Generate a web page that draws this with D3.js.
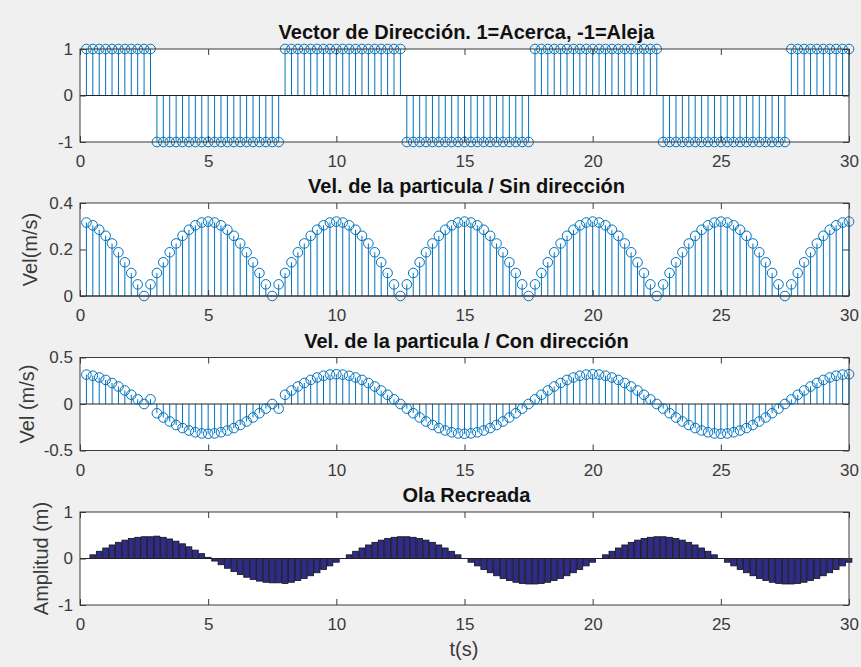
<!DOCTYPE html>
<html>
<head>
<meta charset="utf-8">
<script src="https://cdn.jsdelivr.net/npm/d3@7/dist/d3.min.js"></script>
<style>
  html, body { margin: 0; padding: 0; background: #f0f0f0; }
  svg { display: block; }
  text { font-family: "Liberation Sans", Arial, Helvetica, sans-serif; }
</style>
</head>
<body>
<svg id="fig" width="861" height="667"></svg>
<script>
// Time samples (s)
const t = [
  0.25,0.5,0.75,1,1.25,1.5,1.75,2,2.25,2.5,2.75,3,3.25,3.5,3.75,4,4.25,4.5,4.75,5,
  5.25,5.5,5.75,6,6.25,6.5,6.75,7,7.25,7.5,7.75,8,8.25,8.5,8.75,9,9.25,9.5,9.75,10,
  10.25,10.5,10.75,11,11.25,11.5,11.75,12,12.25,12.5,12.75,13,13.25,13.5,13.75,14,14.25,14.5,14.75,15,
  15.25,15.5,15.75,16,16.25,16.5,16.75,17,17.25,17.5,17.75,18,18.25,18.5,18.75,19,19.25,19.5,19.75,20,
  20.25,20.5,20.75,21,21.25,21.5,21.75,22,22.25,22.5,22.75,23,23.25,23.5,23.75,24,24.25,24.5,24.75,25,
  25.25,25.5,25.75,26,26.25,26.5,26.75,27,27.25,27.5,27.75,28,28.25,28.5,28.75,29,29.25,29.5,29.75,30
];

// Direction vector: 1 = approaching, -1 = moving away
const direction = [
  1,1,1,1,1,1,1,1,1,1,1,-1,-1,-1,-1,-1,-1,-1,-1,-1,
  -1,-1,-1,-1,-1,-1,-1,-1,-1,-1,-1,1,1,1,1,1,1,1,1,1,
  1,1,1,1,1,1,1,1,1,1,-1,-1,-1,-1,-1,-1,-1,-1,-1,-1,
  -1,-1,-1,-1,-1,-1,-1,-1,-1,-1,1,1,1,1,1,1,1,1,1,1,
  1,1,1,1,1,1,1,1,1,1,-1,-1,-1,-1,-1,-1,-1,-1,-1,-1,
  -1,-1,-1,-1,-1,-1,-1,-1,-1,-1,1,1,1,1,1,1,1,1,1,1
];

// Particle speed without direction (m/s)
const speed = [
  0.316,0.304,0.285,0.259,0.226,0.188,0.145,0.099,0.05,0,0.05,0.099,0.145,0.188,0.226,0.259,0.285,0.304,0.316,0.32,
  0.316,0.304,0.285,0.259,0.226,0.188,0.145,0.099,0.05,0,0.05,0.099,0.145,0.188,0.226,0.259,0.285,0.304,0.316,0.32,
  0.316,0.304,0.285,0.259,0.226,0.188,0.145,0.099,0.05,0,0.05,0.099,0.145,0.188,0.226,0.259,0.285,0.304,0.316,0.32,
  0.316,0.304,0.285,0.259,0.226,0.188,0.145,0.099,0.05,0,0.05,0.099,0.145,0.188,0.226,0.259,0.285,0.304,0.316,0.32,
  0.316,0.304,0.285,0.259,0.226,0.188,0.145,0.099,0.05,0,0.05,0.099,0.145,0.188,0.226,0.259,0.285,0.304,0.316,0.32,
  0.316,0.304,0.285,0.259,0.226,0.188,0.145,0.099,0.05,0,0.05,0.099,0.145,0.188,0.226,0.259,0.285,0.304,0.316,0.32
];

// Particle velocity with direction (m/s)
const velocity = [
  0.316,0.304,0.285,0.259,0.226,0.188,0.145,0.099,0.05,0,0.05,-0.099,-0.145,-0.188,-0.226,-0.259,-0.285,-0.304,-0.316,-0.32,
  -0.316,-0.304,-0.285,-0.259,-0.226,-0.188,-0.145,-0.099,-0.05,0,-0.05,0.099,0.145,0.188,0.226,0.259,0.285,0.304,0.316,0.32,
  0.316,0.304,0.285,0.259,0.226,0.188,0.145,0.099,0.05,0,-0.05,-0.099,-0.145,-0.188,-0.226,-0.259,-0.285,-0.304,-0.316,-0.32,
  -0.316,-0.304,-0.285,-0.259,-0.226,-0.188,-0.145,-0.099,-0.05,0,0.05,0.099,0.145,0.188,0.226,0.259,0.285,0.304,0.316,0.32,
  0.316,0.304,0.285,0.259,0.226,0.188,0.145,0.099,0.05,0,-0.05,-0.099,-0.145,-0.188,-0.226,-0.259,-0.285,-0.304,-0.316,-0.32,
  -0.316,-0.304,-0.285,-0.259,-0.226,-0.188,-0.145,-0.099,-0.05,0,0.05,0.099,0.145,0.188,0.226,0.259,0.285,0.304,0.316,0.32
];

// Recreated wave amplitude (m)
const amplitude = [
  0,0.079,0.155,0.226,0.291,0.348,0.395,0.431,0.456,0.468,0.468,0.481,0.456,0.42,0.373,0.316,0.251,0.18,0.104,0.025,
  -0.055,-0.134,-0.21,-0.281,-0.346,-0.403,-0.45,-0.486,-0.511,-0.523,-0.523,-0.536,-0.511,-0.475,-0.428,-0.371,-0.306,-0.235,-0.159,-0.08,
  0,0.079,0.155,0.226,0.291,0.348,0.395,0.431,0.456,0.468,0.468,0.456,0.431,0.395,0.348,0.291,0.226,0.155,0.079,0,
  -0.08,-0.159,-0.235,-0.306,-0.371,-0.428,-0.475,-0.511,-0.536,-0.548,-0.548,-0.536,-0.511,-0.475,-0.428,-0.371,-0.306,-0.235,-0.159,-0.08,
  0,0.079,0.155,0.226,0.291,0.348,0.395,0.431,0.456,0.468,0.468,0.456,0.431,0.395,0.348,0.291,0.226,0.155,0.079,0,
  -0.08,-0.159,-0.235,-0.306,-0.371,-0.428,-0.475,-0.511,-0.536,-0.548,-0.548,-0.536,-0.511,-0.475,-0.428,-0.371,-0.306,-0.235,-0.159,-0.08
];

const xTicks = [0, 5, 10, 15, 20, 25, 30];
const titles = [
  "Vector de Dirección. 1=Acerca, -1=Aleja",
  "Vel. de la particula / Sin dirección",
  "Vel. de la particula / Con dirección",
  "Ola Recreada"
];
const yLabels = ["", "Vel(m/s)", "Vel (m/s)", "Amplitud (m)"];
const yTicks = [[-1, 0, 1], [0, 0.2, 0.4], [-0.5, 0, 0.5], [-1, 0, 1]];
const yDomains = [[-1, 1], [0, 0.4], [-0.5, 0.5], [-1, 1]];
const xLabel = "t(s)";

// ---- layout ----
const svg = d3.select("#fig");
const left = 80, right = 849, plotH = 93;
const tops = [49, 203, 357.5, 512];
const ylabelX = [0, 37, 34, 48];
const stemColor = "#0072bd";
const axisColor = "#3a3a3a";
const tickFont = 17;

const x = d3.scaleLinear().domain([0, 30]).range([left, right]);

const panels = tops.map((top, i) => {
  const y = d3.scaleLinear().domain(yDomains[i]).range([top + plotH, top]);
  const g = svg.append("g");
  g.append("rect")
    .attr("x", left).attr("y", top)
    .attr("width", right - left).attr("height", plotH)
    .attr("fill", "#ffffff");
  return { y, g, top, bottom: top + plotH };
});

function drawAxes(p, i) {
  const { y, g, top, bottom } = p;
  const fmt = d => (d === 0 ? "0" : String(d));
  const styleAxis = sel => {
    sel.select(".domain").remove();
    sel.selectAll(".tick line").attr("stroke", axisColor).attr("stroke-width", 1);
    sel.selectAll(".tick text")
      .attr("fill", "#3a3a3a")
      .attr("font-size", tickFont)
      .attr("font-family", "'Liberation Sans', Arial, sans-serif");
  };
  g.append("g").attr("transform", `translate(0,${bottom})`)
    .call(d3.axisBottom(x).tickValues(xTicks).tickFormat(fmt).tickSize(-6).tickPadding(13))
    .call(styleAxis);
  g.append("g").attr("transform", `translate(0,${top})`)
    .call(d3.axisTop(x).tickValues(xTicks).tickFormat("").tickSize(-6))
    .call(styleAxis);
  g.append("g").attr("transform", `translate(${left},0)`)
    .call(d3.axisLeft(y).tickValues(yTicks[i]).tickFormat(fmt).tickSize(-6).tickPadding(7))
    .call(styleAxis);
  g.append("g").attr("transform", `translate(${right},0)`)
    .call(d3.axisRight(y).tickValues(yTicks[i]).tickFormat("").tickSize(-6))
    .call(styleAxis);
  g.append("rect")
    .attr("x", left).attr("y", top)
    .attr("width", right - left).attr("height", plotH)
    .attr("fill", "none").attr("stroke", axisColor).attr("stroke-width", 1);

  g.append("text")
    .attr("x", (left + right) / 2 + 2).attr("y", top - 10)
    .attr("text-anchor", "middle")
    .attr("font-size", 20).attr("font-weight", "bold").attr("fill", "#111")
    .text(titles[i]);

  if (yLabels[i]) {
    g.append("text")
      .attr("transform", `translate(${ylabelX[i]},${(top + bottom) / 2}) rotate(-90)`)
      .attr("text-anchor", "middle")
      .attr("font-size", 20).attr("fill", "#3a3a3a")
      .text(yLabels[i]);
  }
}

function drawStems(p, values) {
  const { y, g } = p;
  const pts = t.map((tv, k) => ({ t: tv, v: values[k] }));
  g.append("g").selectAll("line").data(pts).join("line")
    .attr("x1", d => x(d.t)).attr("x2", d => x(d.t))
    .attr("y1", y(0)).attr("y2", d => y(d.v))
    .attr("stroke", stemColor).attr("stroke-width", 1);
  g.append("line")
    .attr("x1", left).attr("x2", right)
    .attr("y1", y(0)).attr("y2", y(0))
    .attr("stroke", "#222").attr("stroke-width", 1);
  g.append("g").selectAll("circle").data(pts).join("circle")
    .attr("cx", d => x(d.t)).attr("cy", d => y(d.v))
    .attr("r", 4.8)
    .attr("fill", "none").attr("stroke", stemColor).attr("stroke-width", 1);
}

function drawBars(p, values) {
  const { y, g } = p;
  const step = x(t[1]) - x(t[0]);
  const bw = step * 0.9;
  const pts = t.map((tv, k) => ({ t: tv, v: values[k] }));
  g.append("g").selectAll("rect").data(pts).join("rect")
    .attr("x", d => x(d.t) - bw / 2)
    .attr("y", d => Math.min(y(0), y(d.v)))
    .attr("width", bw)
    .attr("height", d => Math.abs(y(d.v) - y(0)))
    .attr("fill", "#2e2c86").attr("stroke", "#111").attr("stroke-width", 0.8);
  g.append("line")
    .attr("x1", left).attr("x2", right)
    .attr("y1", y(0)).attr("y2", y(0))
    .attr("stroke", "#222").attr("stroke-width", 1);
}

drawStems(panels[0], direction);
drawStems(panels[1], speed);
drawStems(panels[2], velocity);
drawBars(panels[3], amplitude);
panels.forEach(drawAxes);

svg.append("text")
  .attr("x", 464).attr("y", 656)
  .attr("text-anchor", "middle")
  .attr("font-size", 20).attr("fill", "#3a3a3a")
  .text(xLabel);
</script>
</body>
</html>
